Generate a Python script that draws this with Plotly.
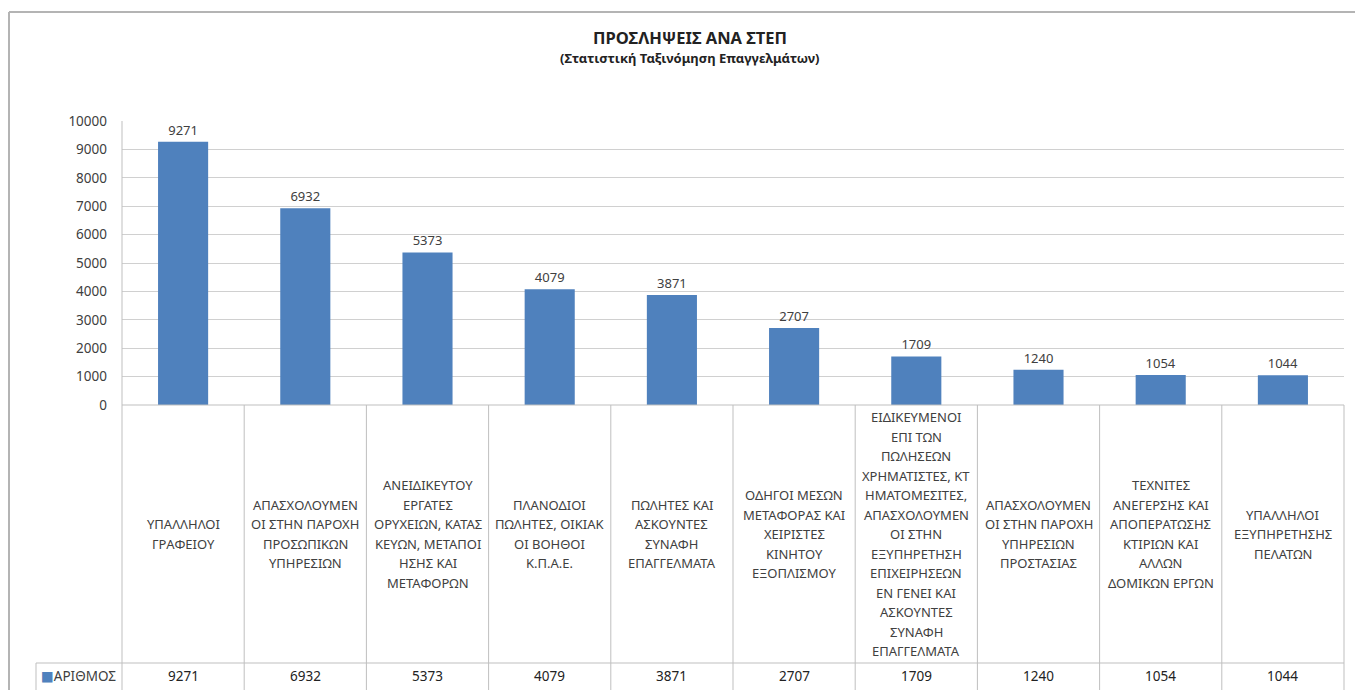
import plotly.graph_objects as go

# ---- data ----
categories = [
    "ΥΠΑΛΛΗΛΟΙ ΓΡΑΦΕΙΟΥ",
    "ΑΠΑΣΧΟΛΟΥΜΕΝΟΙ ΣΤΗΝ ΠΑΡΟΧΗ ΠΡΟΣΩΠΙΚΩΝ ΥΠΗΡΕΣΙΩΝ",
    "ΑΝΕΙΔΙΚΕΥΤΟΥ ΕΡΓΑΤΕΣ ΟΡΥΧΕΙΩΝ, ΚΑΤΑΣΚΕΥΩΝ, ΜΕΤΑΠΟΙΗΣΗΣ ΚΑΙ ΜΕΤΑΦΟΡΩΝ",
    "ΠΛΑΝΟΔΙΟΙ ΠΩΛΗΤΕΣ, ΟΙΚΙΑΚΟΙ ΒΟΗΘΟΙ Κ.Π.Α.Ε.",
    "ΠΩΛΗΤΕΣ ΚΑΙ ΑΣΚΟΥΝΤΕΣ ΣΥΝΑΦΗ ΕΠΑΓΓΕΛΜΑΤΑ",
    "ΟΔΗΓΟΙ ΜΕΣΩΝ ΜΕΤΑΦΟΡΑΣ ΚΑΙ ΧΕΙΡΙΣΤΕΣ ΚΙΝΗΤΟΥ ΕΞΟΠΛΙΣΜΟΥ",
    "ΕΙΔΙΚΕΥΜΕΝΟΙ ΕΠΙ ΤΩΝ ΠΩΛΗΣΕΩΝ ΧΡΗΜΑΤΙΣΤΕΣ, ΚΤΗΜΑΤΟΜΕΣΙΤΕΣ, ΑΠΑΣΧΟΛΟΥΜΕΝΟΙ ΣΤΗΝ ΕΞΥΠΗΡΕΤΗΣΗ ΕΠΙΧΕΙΡΗΣΕΩΝ ΕΝ ΓΕΝΕΙ ΚΑΙ ΑΣΚΟΥΝΤΕΣ ΣΥΝΑΦΗ ΕΠΑΓΓΕΛΜΑΤΑ",
    "ΑΠΑΣΧΟΛΟΥΜΕΝΟΙ ΣΤΗΝ ΠΑΡΟΧΗ ΥΠΗΡΕΣΙΩΝ ΠΡΟΣΤΑΣΙΑΣ",
    "ΤΕΧΝΙΤΕΣ ΑΝΕΓΕΡΣΗΣ ΚΑΙ ΑΠΟΠΕΡΑΤΩΣΗΣ ΚΤΙΡΙΩΝ ΚΑΙ ΑΛΛΩΝ ΔΟΜΙΚΩΝ ΕΡΓΩΝ",
    "ΥΠΑΛΛΗΛΟΙ ΕΞΥΠΗΡΕΤΗΣΗΣ ΠΕΛΑΤΩΝ",
]
category_lines = [
    ["ΥΠΑΛΛΗΛΟΙ", "ΓΡΑΦΕΙΟΥ"],
    ["ΑΠΑΣΧΟΛΟΥΜΕΝ", "ΟΙ ΣΤΗΝ ΠΑΡΟΧΗ", "ΠΡΟΣΩΠΙΚΩΝ", "ΥΠΗΡΕΣΙΩΝ"],
    ["ΑΝΕΙΔΙΚΕΥΤΟΥ", "ΕΡΓΑΤΕΣ", "ΟΡΥΧΕΙΩΝ, ΚΑΤΑΣ", "ΚΕΥΩΝ, ΜΕΤΑΠΟΙ", "ΗΣΗΣ ΚΑΙ", "ΜΕΤΑΦΟΡΩΝ"],
    ["ΠΛΑΝΟΔΙΟΙ", "ΠΩΛΗΤΕΣ, ΟΙΚΙΑΚ", "ΟΙ ΒΟΗΘΟΙ", "Κ.Π.Α.Ε."],
    ["ΠΩΛΗΤΕΣ ΚΑΙ", "ΑΣΚΟΥΝΤΕΣ", "ΣΥΝΑΦΗ", "ΕΠΑΓΓΕΛΜΑΤΑ"],
    ["ΟΔΗΓΟΙ ΜΕΣΩΝ", "ΜΕΤΑΦΟΡΑΣ ΚΑΙ", "ΧΕΙΡΙΣΤΕΣ", "ΚΙΝΗΤΟΥ", "ΕΞΟΠΛΙΣΜΟΥ"],
    ["ΕΙΔΙΚΕΥΜΕΝΟΙ", "ΕΠΙ ΤΩΝ", "ΠΩΛΗΣΕΩΝ", "ΧΡΗΜΑΤΙΣΤΕΣ, ΚΤ", "ΗΜΑΤΟΜΕΣΙΤΕΣ,",
     "ΑΠΑΣΧΟΛΟΥΜΕΝ", "ΟΙ ΣΤΗΝ", "ΕΞΥΠΗΡΕΤΗΣΗ", "ΕΠΙΧΕΙΡΗΣΕΩΝ", "ΕΝ ΓΕΝΕΙ ΚΑΙ",
     "ΑΣΚΟΥΝΤΕΣ", "ΣΥΝΑΦΗ", "ΕΠΑΓΓΕΛΜΑΤΑ"],
    ["ΑΠΑΣΧΟΛΟΥΜΕΝ", "ΟΙ ΣΤΗΝ ΠΑΡΟΧΗ", "ΥΠΗΡΕΣΙΩΝ", "ΠΡΟΣΤΑΣΙΑΣ"],
    ["ΤΕΧΝΙΤΕΣ", "ΑΝΕΓΕΡΣΗΣ ΚΑΙ", "ΑΠΟΠΕΡΑΤΩΣΗΣ", "ΚΤΙΡΙΩΝ ΚΑΙ", "ΑΛΛΩΝ", "ΔΟΜΙΚΩΝ ΕΡΓΩΝ"],
    ["ΥΠΑΛΛΗΛΟΙ", "ΕΞΥΠΗΡΕΤΗΣΗΣ", "ΠΕΛΑΤΩΝ"],
]
values = [9271, 6932, 5373, 4079, 3871, 2707, 1709, 1240, 1054, 1044]
series_name = "ΑΡΙΘΜΟΣ"
title = "ΠΡΟΣΛΗΨΕΙΣ ΑΝΑ ΣΤΕΠ"
subtitle = "(Στατιστική Ταξινόμηση Επαγγελμάτων)"
y_ticks = list(range(0, 10001, 1000))
y_tick_labels = [str(t) for t in y_ticks]

# ---- layout constants ----
W, H = 1355, 690
FONT = "Noto Sans, DejaVu Sans, sans-serif"
BAR = "#4F81BD"
TXT = "#404040"
LINE = "#BFBFBF"
GRID = "#D0D0D0"

# visible drawing band observed in the rendered page (top offset, height)
TOP_OFF, H_EFF = 9, 672


def px(x):
    return x / W


def py(y):
    return (TOP_OFF + H_EFF - y) / H_EFF


X0, X1 = 122, 1344
Y_TOP, Y_ZERO = 121, 405
Y_ROW = 663
Y_BOT = 700

fig = go.Figure(
    go.Bar(
        x=categories,
        y=values,
        marker=dict(color=BAR, line=dict(width=0)),
        width=0.41,
        text=[str(v) for v in values],
        textposition="outside",
        textfont=dict(family=FONT, size=13, color=TXT),
        cliponaxis=False,
        name=series_name,
        showlegend=False,
    )
)

shapes = []


def hline(x0, x1, y, color=LINE, w=1, xref="paper"):
    shapes.append(dict(type="line", xref=xref, yref="paper", x0=x0, x1=x1,
                       y0=py(y), y1=py(y), line=dict(color=color, width=w)))


def vline(x, y0, y1, color=LINE, w=1, xref="paper"):
    shapes.append(dict(type="line", xref=xref, yref="paper", x0=x, x1=x,
                       y0=py(y0), y1=py(y1), line=dict(color=color, width=w)))


# outer chart frame
vline(px(9), 12, Y_BOT, color="#B4B4B4", w=2)
hline(px(9), 1.0, 12, color="#B4B4B4", w=2)
# table
hline(px(X0), px(X1), Y_ZERO)
hline(px(36), px(X1), Y_ROW)
vline(px(X0), Y_TOP, Y_BOT)
vline(px(36), Y_ROW, Y_BOT)
for i in range(len(categories) - 1):
    vline(i + 0.5, Y_ZERO, Y_BOT, xref="x")
vline(px(X1), Y_ZERO, Y_BOT)

annotations = [
    dict(text=f"<b>{title}</b>", x=0.509, y=py(38), xref="paper", yref="paper",
         showarrow=False, font=dict(family=FONT, size=16.5, color="#222222"),
         xanchor="center", yanchor="middle"),
    dict(text=f"<b>{subtitle}</b>", x=0.509, y=py(58), xref="paper", yref="paper",
         showarrow=False, font=dict(family=FONT, size=13, color="#222222"),
         xanchor="center", yanchor="middle"),
    dict(text=f"<span style='color:{BAR}'>■</span>{series_name}", x=px(39), y=py(676),
         xref="paper", yref="paper", showarrow=False, xanchor="left", yanchor="middle",
         font=dict(family=FONT, size=13.5, color=TXT)),
]

LH = 19.5
cell_mid = (Y_ZERO + Y_ROW) / 2
for cat, lines, v in zip(categories, category_lines, values):
    n = len(lines)
    for j, ln in enumerate(lines):
        yy = cell_mid + (j - (n - 1) / 2) * LH
        annotations.append(dict(text=ln, x=cat, xref="x", y=py(yy), yref="paper",
                                showarrow=False, xanchor="center", yanchor="middle",
                                font=dict(family=FONT, size=13, color=TXT)))
    annotations.append(dict(text=str(v), x=cat, xref="x", y=py(676), yref="paper",
                            showarrow=False, xanchor="center", yanchor="middle",
                            font=dict(family=FONT, size=13.5, color="#222222")))

fig.update_layout(
    width=W, height=H, autosize=False,
    margin=dict(l=0, r=0, t=0, b=0),
    paper_bgcolor="white", plot_bgcolor="white",
    xaxis=dict(domain=[px(X0), px(X1)], showticklabels=False, showgrid=False,
               zeroline=False, showline=False, ticks=""),
    yaxis=dict(domain=[py(Y_ZERO), py(Y_TOP)], range=[0, 10000], tickvals=y_ticks,
               ticktext=y_tick_labels,
               showgrid=True, gridcolor=GRID, gridwidth=1, zeroline=False,
               showline=False, ticks="", ticklabelstandoff=14,
               tickfont=dict(family=FONT, size=13.5, color=TXT)),
    shapes=shapes,
    annotations=annotations,
    bargap=0.59,
)

fig.write_html(
    "out.html",
    config={"displayModeBar": False},
    post_script="document.body.style.margin='0';document.body.style.overflow='hidden';",
)
